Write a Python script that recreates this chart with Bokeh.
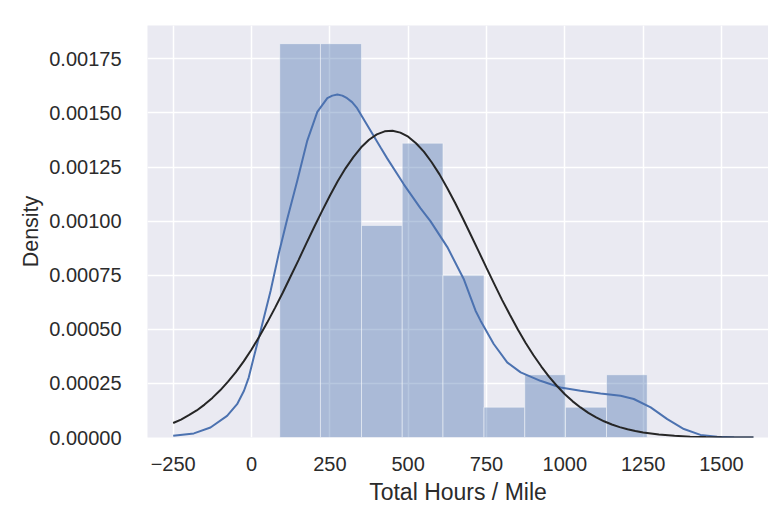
from bokeh.plotting import figure
from bokeh.models import FixedTicker, Range1d, PrintfTickFormatter
from bokeh.embed import file_html
from bokeh.resources import INLINE

# Histogram (density)
bin_edges = [90, 220, 351, 481, 611, 742, 872, 1002, 1133, 1263]
bin_density = [0.00182, 0.00182, 0.00098, 0.00136, 0.00075, 0.00014, 0.00029, 0.00014, 0.00029]

# KDE curve (blue)
kde_x = [-250, -184, -131, -78, -46, -24, -9, 7, 29, 61, 87, 114, 146, 178, 210, 242, 258,
         274, 290, 305, 321, 337, 380, 412, 433, 486, 539, 571, 625, 678, 715, 731, 773, 816,
         859, 922, 986, 1050, 1114, 1178, 1220, 1274, 1327, 1380, 1433, 1486, 1540, 1602]
kde_y = [0.000008, 0.000019, 0.000046, 0.000100, 0.000154, 0.000216, 0.000277, 0.000370,
         0.000493, 0.000678, 0.000850, 0.001010, 0.001187, 0.001372, 0.001505, 0.001568,
         0.00158, 0.001585, 0.00158, 0.001568, 0.00155, 0.001522, 0.001418, 0.00134,
         0.00129, 0.00117, 0.00106, 0.00100, 0.00088, 0.00073, 0.000586, 0.00054, 0.000432,
         0.000347, 0.000301, 0.000262, 0.000231, 0.000216, 0.000203, 0.000193, 0.000178,
         0.000139, 0.000085, 0.000039, 0.000012, 0.000003, 0.000001, 0.0]

# Normal fit curve (black)
fit_x = [-250, -225, -200, -175, -150, -125, -100, -75, -50, -25, 0, 25, 50, 75, 100, 125,
         150, 175, 200, 225, 250, 275, 300, 325, 350, 375, 400, 425, 450, 475, 500, 525, 550,
         575, 600, 625, 650, 675, 700, 725, 750, 775, 800, 825, 850, 875, 900, 925, 950, 975,
         1000, 1025, 1050, 1075, 1100, 1125, 1150, 1175, 1200, 1225, 1250, 1300, 1350, 1400,
         1450, 1500, 1602]
fit_y = [0.000067, 0.000083, 0.000103, 0.000125, 0.000152, 0.000183, 0.000218, 0.000258,
         0.000302, 0.000352, 0.000407, 0.000467, 0.000531, 0.000599, 0.000670, 0.000745,
         0.000820, 0.000897, 0.000973, 0.001046, 0.001117, 0.001184, 0.001244, 0.001296,
         0.001341, 0.001376, 0.001401, 0.001415, 0.001418, 0.001409, 0.001390, 0.001360,
         0.001321, 0.001272, 0.001216, 0.001152, 0.001084, 0.001011, 0.000936, 0.000860,
         0.000784, 0.000709, 0.000635, 0.000566, 0.000499, 0.000437, 0.000380, 0.000328,
         0.000280, 0.000238, 0.000200, 0.000167, 0.000139, 0.000114, 0.000093, 0.000075,
         0.000060, 0.000048, 0.000038, 0.000030, 0.000023, 0.000014, 0.000008, 0.000004,
         0.000002, 0.000001, 0.0]

x_ticks = [-250, 0, 250, 500, 750, 1000, 1250, 1500]
y_ticks = [0.0, 0.00025, 0.0005, 0.00075, 0.001, 0.00125, 0.0015, 0.00175]

FONT = "Liberation Sans"
TXT = "#2b2b2b"

p = figure(width=768, height=509, output_backend="svg", toolbar_location=None,
           x_range=Range1d(-332, 1650), y_range=Range1d(0, 0.001904),
           min_border_left=147, min_border_top=25, min_border_right=0, min_border_bottom=72)
p.background_fill_color = "#eaeaf2"
p.border_fill_color = "white"
p.outline_line_color = None

for g in (p.xgrid, p.ygrid):
    g.grid_line_color = "white"
    g.grid_line_width = 1.5
p.xgrid.ticker = FixedTicker(ticks=x_ticks)
p.ygrid.ticker = FixedTicker(ticks=y_ticks)

p.quad(left=bin_edges[:-1], right=bin_edges[1:], bottom=0, top=bin_density,
       fill_color="#4c72b0", fill_alpha=0.4, line_color="white", line_alpha=0.45, line_width=1)
p.line(kde_x, kde_y, line_color="#4c72b0", line_width=2)
p.line(fit_x, fit_y, line_color="#262626", line_width=2)

for ax in (p.xaxis[0], p.yaxis[0]):
    ax.axis_line_color = None
    ax.major_tick_line_color = None
    ax.minor_tick_line_color = None
    ax.major_label_text_font = FONT
    ax.major_label_text_font_size = "20px"
    ax.major_label_text_color = TXT
    ax.axis_label_text_font = FONT
    ax.axis_label_text_font_style = "normal"
    ax.axis_label_text_color = TXT

p.xaxis.ticker = FixedTicker(ticks=x_ticks)
p.xaxis.major_label_overrides = {-250: "\u2212250"}
p.xaxis.major_label_standoff = 13
p.xaxis.axis_label = "Total Hours / Mile"
p.xaxis.axis_label_text_font_size = "23px"
p.xaxis.axis_label_standoff = 5

p.yaxis.ticker = FixedTicker(ticks=y_ticks)
p.yaxis.formatter = PrintfTickFormatter(format="%.5f")
p.yaxis.major_label_standoff = 20
p.yaxis.axis_label = "Density"
p.yaxis.axis_label_text_font_size = "21.5px"
p.yaxis.axis_label_standoff = 3

open("out.html", "w").write(file_html(p, INLINE))
